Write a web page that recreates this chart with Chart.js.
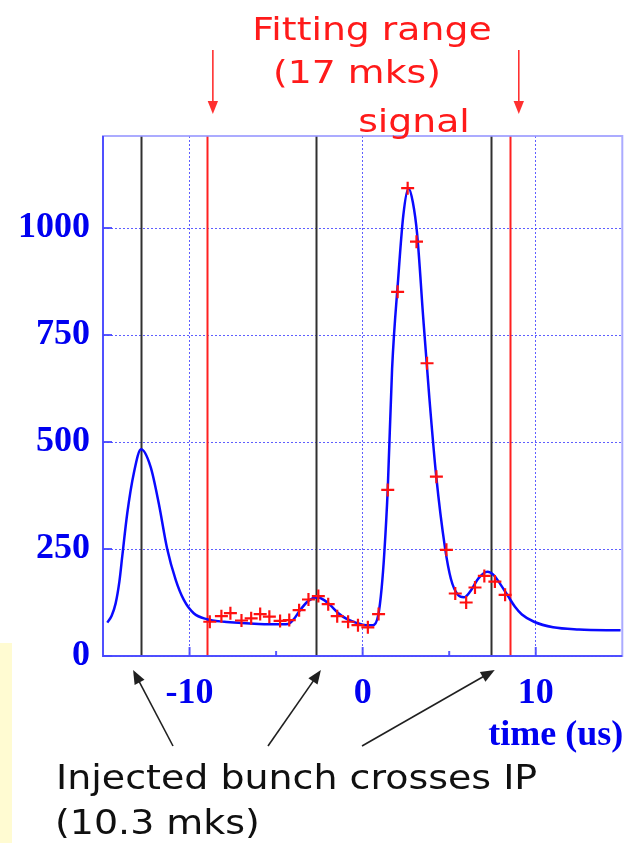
<!DOCTYPE html>
<html>
<head>
<meta charset="utf-8">
<script src="https://cdn.jsdelivr.net/npm/chart.js@4"></script>
<style>
  html, body { margin: 0; padding: 0; background: #fff; }
  canvas { display: block; }
</style>
</head>
<body>
<canvas id="myChart" width="631" height="843"></canvas>
<script>
// fitted pulse shape: time (us), amplitude
var fitTime = [-14.75, -14.5, -14.27, -14.05, -13.89, -13.6, -13.22, -12.8, -12.25, -11.78, -11.3, -10.8, -10.33, -9.76, -9.0,
  -8.0, -7.0, -6.0, -5.0, -4.3, -4.0, -3.6, -3.1, -2.6, -2.2, -1.9, -1.4, -0.9, -0.4, 0.2, 0.6, 0.9, 1.1, 1.25,
  1.45, 1.7, 2.05, 2.35, 2.65, 2.9, 3.15, 3.5, 3.85, 4.25, 4.75, 5.1, 5.5, 5.85, 6.2, 6.7, 7.2, 7.6, 8.0, 8.4,
  8.8, 9.2, 9.9, 11.0, 12.5, 14.9];
var fitAmp = [78, 94, 123, 175, 232, 333, 427, 483, 442, 357, 252, 178, 131, 100, 86,
  80, 77, 75, 74, 75, 85, 108, 130, 137, 130, 120, 100, 86, 78, 72, 72, 95, 160, 240,
  390, 670, 880, 1030, 1093, 1060, 985, 790, 605, 420, 255, 180, 143, 137, 150, 182, 197, 188, 165, 140,
  115, 97, 80, 67, 62, 60];

// measured samples inside the fitting range
var sampleTime = [-8.83, -8.16, -7.64, -7.0, -6.44, -5.92, -5.39, -4.77, -4.24, -3.67, -3.13, -2.56, -1.99, -1.47,
  -0.84, -0.27, 0.3, 0.92, 1.45, 2.02, 2.6, 3.11, 3.72, 4.26, 4.84, 5.35, 5.98, 6.49, 7.03, 7.64, 8.23];
var sampleAmp = [80, 93, 100, 83, 88, 98, 92, 82, 84, 107, 132, 140, 121, 93,
  80, 72, 67, 98, 388, 851, 1093, 968, 684, 419, 248, 146, 125, 160, 187, 174, 143];

var bunchTimes = [-12.8, -2.7, 7.4];   // injected bunch crosses IP
var fitRange = [-9.0, 8.5];            // fitting range edges
var xTicks = [-10, 0, 10];
var xMinor = [-5, 5];
var yTicks = [0, 250, 500, 750, 1000];

var BLUE = "#0000f0";

function zip(xs, ys) {
  return xs.map(function (x, i) { return { x: x, y: ys[i] }; });
}

function wideText(c, text, x, y, sx, align) {
  c.save();
  c.translate(x, y);
  c.scale(sx, 1);
  c.textAlign = align;
  c.fillText(text, 0, 0);
  c.restore();
}

function arrow(c, x1, y1, x2, y2, head, color, width) {
  var a = Math.atan2(y2 - y1, x2 - x1);
  c.save();
  c.strokeStyle = color;
  c.fillStyle = color;
  c.lineWidth = width;
  c.beginPath();
  c.moveTo(x1, y1);
  c.lineTo(x2 - head * 0.8 * Math.cos(a), y2 - head * 0.8 * Math.sin(a));
  c.stroke();
  c.beginPath();
  c.moveTo(x2, y2);
  c.lineTo(x2 - head * Math.cos(a - 0.38), y2 - head * Math.sin(a - 0.38));
  c.lineTo(x2 - head * Math.cos(a + 0.38), y2 - head * Math.sin(a + 0.38));
  c.closePath();
  c.fill();
  c.restore();
}

var markers = {
  id: "markers",
  beforeDraw: function (chart) {
    var c = chart.ctx;
    c.save();
    c.fillStyle = "#fffbd2";
    c.fillRect(0, 643, 12, 200);
    c.restore();
  },
  beforeDatasetsDraw: function (chart) {
    var c = chart.ctx, a = chart.chartArea, xs = chart.scales.x;
    c.save();
    c.lineWidth = 2;
    c.strokeStyle = "#303030";
    bunchTimes.forEach(function (t) {
      var px = Math.round(xs.getPixelForValue(t)) + 0.5;
      c.beginPath(); c.moveTo(px, a.top); c.lineTo(px, a.bottom); c.stroke();
    });
    c.strokeStyle = "#ff2020";
    fitRange.forEach(function (t) {
      var px = Math.round(xs.getPixelForValue(t)) + 0.5;
      c.beginPath(); c.moveTo(px, a.top); c.lineTo(px, a.bottom); c.stroke();
    });
    c.restore();
  },
  afterDraw: function (chart) {
    var c = chart.ctx, a = chart.chartArea, xs = chart.scales.x, ys = chart.scales.y;
    c.save();

    // frame
    c.lineWidth = 2;
    c.strokeStyle = "rgba(150,150,255,0.8)";
    c.strokeRect(a.left, a.top, a.right - a.left, a.bottom - a.top);
    c.strokeStyle = "rgba(70,70,255,0.9)";
    c.beginPath();
    c.moveTo(a.left, a.top); c.lineTo(a.left, a.bottom); c.lineTo(a.right, a.bottom);
    c.stroke();

    // inward tick marks
    c.lineWidth = 2;
    yTicks.forEach(function (v) {
      var py = ys.getPixelForValue(v);
      c.beginPath(); c.moveTo(a.left, py); c.lineTo(a.left + 9, py); c.stroke();
    });
    xTicks.forEach(function (v) {
      var px = xs.getPixelForValue(v);
      c.beginPath(); c.moveTo(px, a.bottom); c.lineTo(px, a.bottom - 9); c.stroke();
    });
    xMinor.forEach(function (v) {
      var px = xs.getPixelForValue(v);
      c.beginPath(); c.moveTo(px, a.bottom); c.lineTo(px, a.bottom - 5); c.stroke();
    });

    // axis title
    c.fillStyle = BLUE;
    c.font = "bold 36px 'Liberation Serif'";
    c.textAlign = "right";
    c.textBaseline = "alphabetic";
    c.fillText("time (us)", a.right + 1, 745);

    // fitting range notes
    c.fillStyle = "#ff1a1a";
    c.font = "32px 'DejaVu Sans'";
    wideText(c, "Fitting range", 372, 40, 1.18, "center");
    wideText(c, "(17 mks)", 357, 83, 1.18, "center");
    wideText(c, "signal", 414, 132, 1.18, "center");
    fitRange.forEach(function (t, i) {
      var px = xs.getPixelForValue(t) + [6, 9][i];
      arrow(c, px, 50, px, 114, 14, "#ff3030", 1.6);
    });

    // bunch crossing notes
    c.fillStyle = "#101010";
    c.font = "33px 'DejaVu Sans'";
    wideText(c, "Injected bunch crosses IP", 56, 789, 1.15, "left");
    wideText(c, "(10.3 mks)", 55, 834, 1.15, "left");
    var tails = [[173, 746], [268, 746], [362, 746]];
    var dx = [-8, 5, 4];
    bunchTimes.forEach(function (t, i) {
      var px = xs.getPixelForValue(t) + dx[i];
      arrow(c, tails[i][0], tails[i][1], px, a.bottom + 14, 15, "#202020", 1.6);
    });
    c.restore();
  }
};

var ctx = document.getElementById("myChart");

var myChart = new Chart(ctx, {
  type: "scatter",
  data: {
    datasets: [
      {
        label: "fit",
        data: zip(fitTime, fitAmp),
        showLine: true,
        borderColor: "#0a0aff",
        borderWidth: 2.5,
        pointRadius: 0,
        cubicInterpolationMode: "monotone",
        order: 2
      },
      {
        label: "data",
        data: zip(sampleTime, sampleAmp),
        showLine: false,
        pointStyle: "cross",
        pointRadius: 6.5,
        borderColor: "#ff1010",
        borderWidth: 2.2,
        order: 1
      }
    ]
  },
  options: {
    responsive: false,
    animation: false,
    devicePixelRatio: 1,
    layout: { padding: { left: 0, top: 136, right: 5, bottom: 0 } },
    plugins: {
      legend: { display: false },
      tooltip: { enabled: false }
    },
    scales: {
      x: {
        type: "linear",
        min: -15,
        max: 15,
        afterBuildTicks: function (scale) {
          scale.ticks = xTicks.map(function (v) { return { value: v }; });
        },
        afterFit: function (scale) { scale.height = 187; },
        grid: { color: "rgba(40,40,255,0.75)", lineWidth: 1, drawTicks: false },
        border: { display: false, dash: [2, 2] },
        ticks: {
          color: BLUE,
          padding: 16,
          maxRotation: 0,
          callback: function (v) { return String(v); },
          font: { family: "'Liberation Serif'", size: 36, weight: "bold" }
        }
      },
      y: {
        type: "linear",
        min: 0,
        max: 1215,
        afterBuildTicks: function (scale) {
          scale.ticks = yTicks.map(function (v) { return { value: v }; });
        },
        afterFit: function (scale) { scale.width = 103; },
        grid: { color: "rgba(40,40,255,0.75)", lineWidth: 1, drawTicks: false },
        border: { display: false, dash: [2, 2] },
        ticks: {
          color: BLUE,
          padding: 13,
          callback: function (v) { return String(v); },
          font: { family: "'Liberation Serif'", size: 36, weight: "bold" }
        }
      }
    }
  },
  plugins: [markers]
});
</script>
</body>
</html>
